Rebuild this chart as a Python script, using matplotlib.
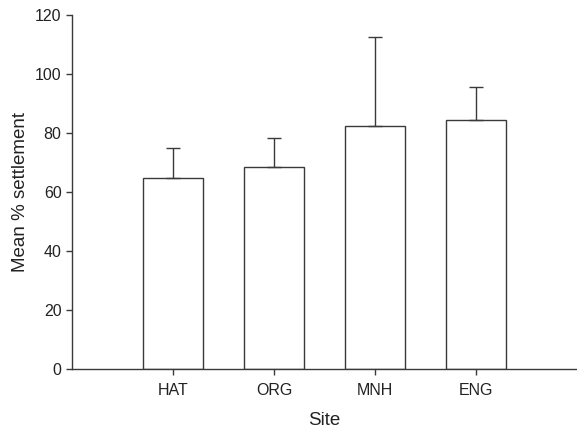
import matplotlib
matplotlib.use("Agg")
import matplotlib.pyplot as plt
import numpy as np

sites = ["HAT", "ORG", "MNH", "ENG"]
means = [64.7, 68.5, 82.4, 84.6]
upper_err = [10.4, 9.9, 30.2, 11.1]

plt.rcParams['font.family'] = ['Liberation Sans', 'DejaVu Sans']
line_col = '#3a3a3a'

fig = plt.figure(figsize=(5.77, 4.28), dpi=100)
ax = fig.add_axes([0.1248, 0.1367, 0.8752, 0.8283])

x = np.arange(len(sites))
ax.bar(x, means, width=0.6, color='white', edgecolor=line_col, linewidth=1.0,
       yerr=[np.zeros(len(sites)), upper_err], capsize=5,
       error_kw=dict(ecolor=line_col, elinewidth=1.0, capthick=1.0))

ax.set_xlim(-1.0, 4.0)
ax.set_ylim(0, 120)
ax.set_yticks(range(0, 121, 20))
ax.set_xticks(x)
ax.set_xticklabels(sites)

for s in ['top', 'right']:
    ax.spines[s].set_visible(False)
for s in ['left', 'bottom']:
    ax.spines[s].set_color(line_col)
    ax.spines[s].set_linewidth(1.0)

ax.tick_params(direction='out', length=4, width=1.0, color=line_col,
               labelsize=11.5, labelcolor='#222222')
ax.tick_params(axis='x', pad=6)
ax.set_xlabel("Site", fontsize=13.5, color='#222222', labelpad=10)
ax.set_ylabel("Mean % settlement", fontsize=13.5, color='#222222', labelpad=4)

fig.savefig("out.png", dpi=100)
